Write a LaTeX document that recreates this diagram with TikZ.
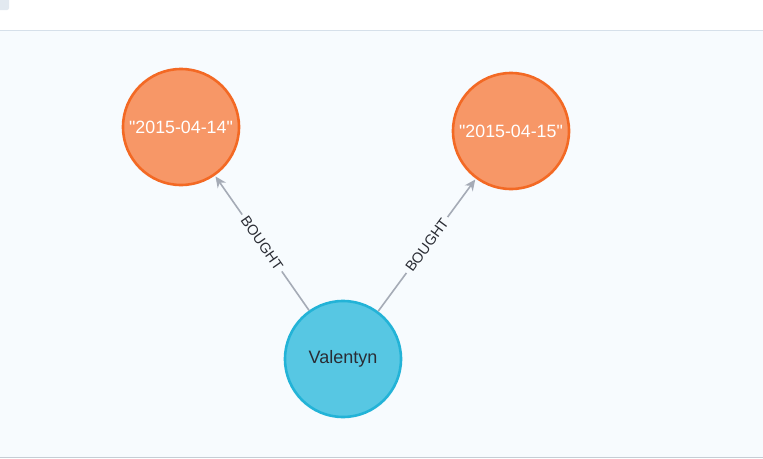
\documentclass[tikz,border=0pt]{standalone}
\usepackage{fontspec}
\setmainfont{Liberation Sans}
\usetikzlibrary{arrows.meta}
\definecolor{datefill}{HTML}{F79767}
\definecolor{datedraw}{HTML}{F36924}
\definecolor{personfill}{HTML}{57C7E3}
\definecolor{persondraw}{HTML}{23B3D7}
\definecolor{relgray}{HTML}{A5ABB6}
\definecolor{canvasbg}{HTML}{F7FBFE}
\definecolor{canvasline}{HTML}{D6E0EA}
\definecolor{txtdark}{HTML}{2A2C34}

\begin{document}
\begin{tikzpicture}
    [x=1pt, y=-1pt, >={Stealth[length=11pt, width=10pt]},
    date/.style={circle, draw=datedraw, fill=datefill, line width=2.6pt, minimum size=116pt, inner sep=0pt, text=white, font=\fontsize{17.8}{22}\selectfont},
    person/.style={circle, draw=persondraw, fill=personfill, line width=2.6pt, minimum size=116pt, inner sep=0pt, text=txtdark, font=\fontsize{18}{22}\selectfont},
    rel/.style={draw=relgray, line width=1.6pt, shorten >=1pt},
    rellabel/.style={sloped, fill=canvasbg, inner sep=3.5pt, text=txtdark, font=\fontsize{14.5}{17}\selectfont}]
    \useasboundingbox (0,0) rectangle (763,458);
    % canvas
    \fill[white] (0,0) rectangle (763,30);
    \fill[canvasbg] (0,30) rectangle (763,457);
    \draw[canvasline, line width=1pt] (0,30.5) -- (763,30.5);
    \draw[canvasline!80!gray, line width=1pt] (0,457) -- (763,457);
    \fill[canvasline!70!white, rounded corners=2pt] (-4,-4) rectangle (9,10);
    \begin{scope}
    \node[date] (d14) at (181,127) {\raisebox{-2pt}{\textquotedbl 2015-04-14\textquotedbl}};
    \node[date] (d15) at (511,131) {\raisebox{-2pt}{\textquotedbl 2015-04-15\textquotedbl}};
    \node[person] (val) at (343,359) {\raisebox{-2pt}{Valentyn}};
    \draw[->, rel] (val) -- node[rellabel] {BOUGHT} (d14);
    \draw[->, rel] (val) -- node[rellabel] {BOUGHT} (d15);
    \end{scope}
\end{tikzpicture}
\end{document}
